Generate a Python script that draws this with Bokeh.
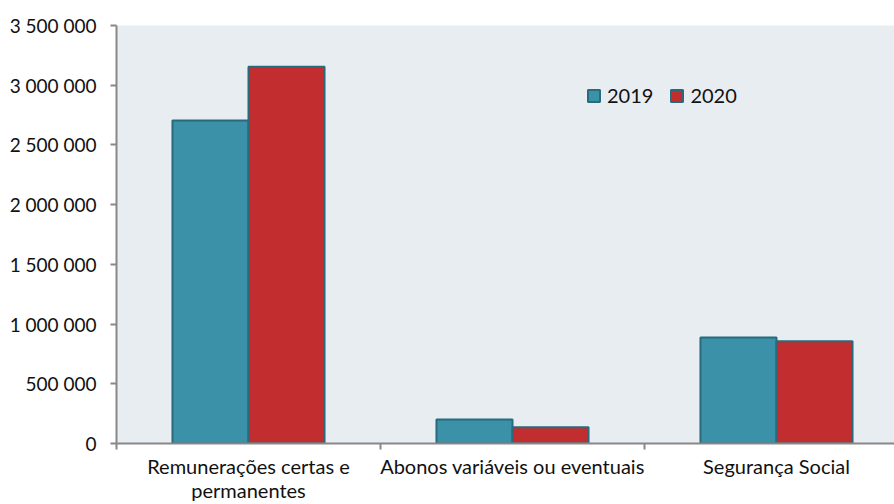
from bokeh.plotting import figure
from bokeh.models import Range1d, FixedTicker, Legend, LegendItem, ColumnDataSource
from bokeh.embed import file_html
from bokeh.resources import INLINE

categories = ["Remunerações certas e\npermanentes", "Abonos variáveis ou eventuais", "Segurança Social"]
series_names = ["2019", "2020"]
values_2019 = [2705000, 200000, 887000]
values_2020 = [3155000, 136000, 857000]
y_ticks = [0, 500000, 1000000, 1500000, 2000000, 2500000, 3000000, 3500000]
y_tick_labels = ["0", "500 000", "1 000 000", "1 500 000", "2 000 000", "2 500 000", "3 000 000", "3 500 000"]

FONT = "Lato"
colors = ["#3A91A8", "#C22E30"]
border = "#276B7C"

W, H = 894, 504
left, top, bottom = 116, 25, 444
YMAX = 3500000
p = figure(width=W, height=H, output_backend="svg", toolbar_location=None,
           x_range=Range1d(0, (W - left) / 264), y_range=Range1d(0, YMAX),
           min_border_left=left, min_border_right=0, min_border_top=top,
           min_border_bottom=H - bottom)
p.background_fill_color = "#E8EDF2"
p.border_fill_color = "white"
p.outline_line_color = None
p.xgrid.visible = False
p.ygrid.visible = False

bw = 0.288
centers = [i + 0.5 for i in range(len(categories))]
src19 = ColumnDataSource(dict(x=[c - bw / 2 for c in centers], top=values_2019))
src20 = ColumnDataSource(dict(x=[c + bw / 2 for c in centers], top=values_2020))
r19 = p.vbar(x="x", top="top", width=bw, source=src19, fill_color=colors[0], line_color=border, line_width=2)
r20 = p.vbar(x="x", top="top", width=bw, source=src20, fill_color=colors[1], line_color=border, line_width=2)

# x axis: labels centred on categories, ticks at category boundaries
p.xaxis.ticker = FixedTicker(ticks=centers, minor_ticks=[0, 1, 2, 3])
p.xaxis.major_label_overrides = {c: lab for c, lab in zip(centers, categories)}
p.xaxis.major_tick_line_color = None
p.xaxis.major_tick_in = 0
p.xaxis.major_tick_out = 0
p.xaxis.minor_tick_in = 0
p.xaxis.minor_tick_out = 6
p.xaxis.minor_tick_line_color = "#888888"
p.xaxis.minor_tick_line_width = 2
p.xaxis.axis_line_color = "#888888"
p.xaxis.axis_line_width = 2
p.xaxis.major_label_text_font = FONT
p.xaxis.major_label_text_font_size = "20px"
p.xaxis.major_label_text_color = "#111111"
p.xaxis.major_label_text_line_height = 1.0
p.xaxis.major_label_standoff = 4

# y axis
p.yaxis.ticker = FixedTicker(ticks=y_ticks, minor_ticks=[])
p.yaxis.major_label_overrides = {t: lab for t, lab in zip(y_ticks, y_tick_labels)}
p.yaxis.axis_line_color = "#888888"
p.yaxis.axis_line_width = 2
p.yaxis.major_tick_line_color = "#888888"
p.yaxis.major_tick_line_width = 2
p.yaxis.major_tick_in = 0
p.yaxis.major_tick_out = 6
p.yaxis.major_label_text_font = FONT
p.yaxis.major_label_text_font_size = "19px"
p.yaxis.major_label_text_color = "#111111"
p.yaxis.major_label_standoff = 14

legend = Legend(items=[LegendItem(label=series_names[0], renderers=[r19]),
                       LegendItem(label=series_names[1], renderers=[r20])],
                orientation="horizontal", location=(470, 336),
                background_fill_alpha=0, border_line_color=None,
                label_text_font=FONT, label_text_font_size="20px", label_text_color="#111111",
                glyph_width=15, glyph_height=15, spacing=16, label_standoff=6, padding=3, margin=0)
p.add_layout(legend)

open("out.html", "w").write(file_html(p, INLINE))
